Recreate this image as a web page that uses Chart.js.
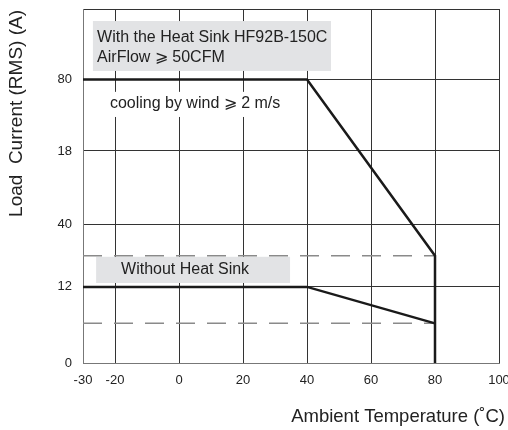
<!DOCTYPE html>
<html>
<head>
<meta charset="utf-8">
<script src="https://cdn.jsdelivr.net/npm/chart.js@4"></script>
<style>
  html, body { margin: 0; padding: 0; background: #fff; }
  #wrap { position: relative; width: 508px; height: 430px; }
</style>
</head>
<body>
<div id="wrap"><canvas id="chart"></canvas></div>
<script>
// axis ticks (the y labels are printed as in the datasheet, out of order)
const xTicks = [-30, -20, 0, 20, 40, 60, 80, 100];
const yTicks = [0, 21.5, 39.2, 59.9, 80.1, 100];
const yTickLabels = ['0', '12', '40', '18', '80', ''];

// derating curves
const heatSinkTemp = [-30, 40, 80, 80];
const heatSinkCurrent = [80.1, 80.1, 30.3, 0];
const noSinkTemp = [-30, 40, 80];
const noSinkCurrent = [21.5, 21.5, 11.2];
const dashTemp = [-30, 80];
const dashUpper = [30.3, 30.3];
const dashLower = [11.2, 11.2];

const FONT = "'Liberation Sans', Arial, sans-serif";

const pts = (xs, ys) => xs.map((x, i) => ({ x, y: ys[i] }));

// label boxes, in data units
const notes = [
  { x0: -26.9, x1: 47.5, y0: 82.5, y1: 96.6, fill: '#e2e3e5',
    text: [['With the Heat Sink HF92B-150C', -25.6, 91.8], ['AirFlow \u2A7E 50CFM', -25.6, 86.4]], align: 'left' },
  { x0: -24.7, x1: 36.2, y0: 69.5, y1: 76.6, fill: '#ffffff',
    text: [['cooling by wind \u2A7E 2 m/s', -21.6, 73.2]], align: 'left' },
  { x0: -25.9, x1: 34.7, y0: 22.6, y1: 30.0, fill: '#e2e3e5',
    text: [['Without Heat Sink', 1.9, 26.3]], align: 'center' }
];

const notesPlugin = {
  id: 'notes',
  beforeDatasetsDraw(chart) {
    const { ctx, scales: { x, y } } = chart;
    ctx.save();
    notes.forEach(n => {
      const l = x.getPixelForValue(n.x0), r = x.getPixelForValue(n.x1);
      const t = y.getPixelForValue(n.y1), b = y.getPixelForValue(n.y0);
      ctx.fillStyle = n.fill;
      ctx.fillRect(l, t, r - l, b - t);
      ctx.fillStyle = '#222';
      ctx.font = '16px ' + FONT;
      ctx.textAlign = n.align;
      ctx.textBaseline = 'middle';
      n.text.forEach(([s, tx, ty]) => ctx.fillText(s, x.getPixelForValue(tx), y.getPixelForValue(ty)));
    });
    ctx.restore();
  },
  afterDraw(chart) {
    const { ctx } = chart;
    ctx.save();
    ctx.fillStyle = '#222';
    ctx.font = '18.5px ' + FONT;
    ctx.textBaseline = 'middle';
    ctx.textAlign = 'right';
    ctx.fillText('Ambient Temperature (\u02DAC)', 505, 417);
    ctx.font = '19px ' + FONT;
    ctx.translate(17, 10);
    ctx.rotate(-Math.PI / 2);
    ctx.fillText('Load  Current (RMS) (A)', 0, 0);
    ctx.restore();
  }
};

const solid = { borderColor: '#1a1a1a', borderWidth: 2.5, pointRadius: 0, showLine: true, fill: false, tension: 0 };
const dashed = { borderColor: '#8a8a8a', borderWidth: 1.5, borderDash: [19, 12], pointRadius: 0, showLine: true, fill: false };

new Chart(document.getElementById('chart'), {
  type: 'scatter',
  data: {
    datasets: [
      { ...solid, data: pts(heatSinkTemp, heatSinkCurrent) },
      { ...solid, data: pts(noSinkTemp, noSinkCurrent) },
      { ...dashed, data: pts(dashTemp, dashUpper) },
      { ...dashed, data: pts(dashTemp, dashLower) }
    ]
  },
  options: {
    responsive: true,
    maintainAspectRatio: false,
    animation: false,
    layout: { padding: { top: 9, right: 9, left: 0, bottom: 0 } },
    plugins: { legend: { display: false }, tooltip: { enabled: false } },
    scales: {
      x: {
        type: 'linear', min: -30, max: 100,
        afterBuildTicks: s => { s.ticks = xTicks.map(v => ({ value: v })); },
        afterFit: s => { s.height = 67; s.paddingLeft = 0; s.paddingRight = 0; },
        grid: { color: '#333', lineWidth: 1, drawTicks: false },
        border: { color: '#777', width: 1 },
        ticks: { color: '#222', font: { family: FONT, size: 13 }, padding: 10, maxRotation: 0 }
      },
      y: {
        type: 'linear', min: 0, max: 100,
        afterBuildTicks: s => { s.ticks = yTicks.map(v => ({ value: v })); },
        afterFit: s => { s.width = 83; s.paddingTop = 0; s.paddingBottom = 0; },
        grid: { color: '#333', lineWidth: 1, drawTicks: false },
        border: { color: '#777', width: 1 },
        ticks: { color: '#222', font: { family: FONT, size: 13 }, padding: 11,
                 callback: (v, i) => yTickLabels[i] }
      }
    }
  },
  plugins: [notesPlugin]
});
</script>
</body>
</html>
